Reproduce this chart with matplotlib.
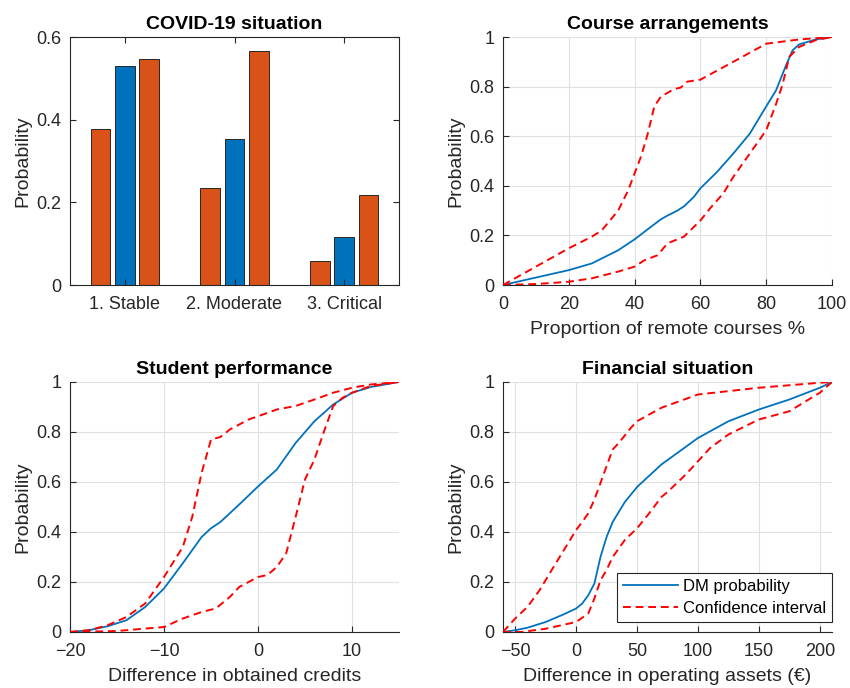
import numpy as np
import matplotlib.pyplot as plt
from matplotlib.ticker import FuncFormatter

plt.rcParams['font.family'] = ['Liberation Sans', 'DejaVu Sans']

BLUE = '#0072BD'
ORANGE = '#D95319'
RED = '#FF0000'
AXC = '#262626'

# COVID-19 situation (lower bound, DM probability, upper bound)
covid_cats = ['1. Stable', '2. Moderate', '3. Critical']
covid_low = [0.377, 0.234, 0.059]
covid_dm = [0.531, 0.353, 0.117]
covid_high = [0.546, 0.565, 0.218]

# Course arrangements
course_dm_x = [0, 10, 20, 27, 35, 40, 45, 48, 50, 53, 55, 58, 60, 65, 70, 75, 80, 83, 86, 88, 90, 95, 100]
course_dm_y = [0, 0.03, 0.06, 0.087, 0.14, 0.184, 0.235, 0.265, 0.28, 0.3, 0.317, 0.355, 0.39, 0.455, 0.53, 0.61, 0.72, 0.785, 0.885, 0.946, 0.97, 0.99, 1.0]
course_hi_x = [0, 10, 20, 27, 30, 35, 38, 40, 42, 44, 46, 48, 52, 54, 56, 60, 70, 80, 90, 100]
course_hi_y = [0, 0.074, 0.148, 0.195, 0.22, 0.30, 0.38, 0.45, 0.52, 0.61, 0.72, 0.76, 0.79, 0.796, 0.82, 0.828, 0.90, 0.973, 0.99, 1.0]
course_lo_x = [0, 10, 20, 27, 35, 40, 43, 47, 50, 55, 60, 63, 67, 70, 75, 80, 83, 85, 87, 90, 95, 100]
course_lo_y = [0, 0.004, 0.013, 0.027, 0.054, 0.074, 0.10, 0.12, 0.168, 0.195, 0.26, 0.31, 0.37, 0.436, 0.53, 0.624, 0.73, 0.81, 0.92, 0.96, 0.987, 1.0]

# Student performance
perf_dm_x = [-20, -18, -16, -14, -12, -10, -8, -6, -5, -4, -2, 0, 2, 4, 6, 8, 10, 12, 15]
perf_dm_y = [0, 0.007, 0.023, 0.047, 0.10, 0.174, 0.275, 0.38, 0.415, 0.44, 0.51, 0.582, 0.65, 0.756, 0.843, 0.91, 0.957, 0.98, 1.0]
perf_hi_x = [-20, -18, -16, -14, -12, -10, -8, -7, -6, -5, -4, -3, -1, 0, 2, 4, 6, 8, 10, 12, 15]
perf_hi_y = [0, 0.007, 0.027, 0.06, 0.114, 0.22, 0.34, 0.46, 0.636, 0.77, 0.78, 0.81, 0.85, 0.863, 0.89, 0.904, 0.93, 0.957, 0.977, 0.99, 1.0]
perf_lo_x = [-20, -15, -10, -8, -6, -4.5, -3, -2, 0, 1, 2, 3, 4, 5, 6, 7, 8, 9, 10, 12, 15]
perf_lo_y = [0, 0.004, 0.02, 0.054, 0.08, 0.094, 0.14, 0.18, 0.22, 0.228, 0.26, 0.315, 0.46, 0.61, 0.69, 0.80, 0.904, 0.937, 0.957, 0.984, 1.0]

# Financial situation
fin_dm_x = [-60, -50, -40, -25, -10, 0, 5, 10, 15, 20, 25, 30, 40, 50, 70, 100, 125, 150, 175, 200, 210]
fin_dm_y = [0, 0.007, 0.017, 0.04, 0.071, 0.094, 0.114, 0.147, 0.194, 0.30, 0.38, 0.44, 0.52, 0.58, 0.67, 0.776, 0.843, 0.89, 0.93, 0.977, 1.0]
fin_hi_x = [-60, -50, -40, -30, -20, -10, 0, 5, 10, 15, 20, 25, 30, 35, 45, 50, 70, 100, 150, 200, 210]
fin_hi_y = [0, 0.054, 0.10, 0.167, 0.248, 0.328, 0.408, 0.44, 0.475, 0.53, 0.596, 0.663, 0.73, 0.756, 0.817, 0.843, 0.897, 0.95, 0.977, 0.997, 1.0]
fin_lo_x = [-60, -45, -25, 0, 10, 15, 20, 25, 30, 40, 50, 60, 70, 75, 90, 100, 110, 125, 150, 175, 200, 210]
fin_lo_y = [0, 0, 0.013, 0.04, 0.074, 0.134, 0.207, 0.248, 0.30, 0.368, 0.415, 0.475, 0.54, 0.56, 0.63, 0.683, 0.736, 0.79, 0.85, 0.883, 0.957, 1.0]


def mfmt(v, pos):
    return '%g' % round(v, 6)


def style(ax, box=False):
    for s in ['top', 'right']:
        ax.spines[s].set_visible(box)
    for s in ax.spines.values():
        s.set_color(AXC)
        s.set_linewidth(0.8)
    ax.tick_params(direction='in', length=4, width=0.8, colors=AXC, labelsize=13,
                   top=box, right=box)
    ax.tick_params(axis='x', pad=8)
    ax.tick_params(axis='y', pad=6)
    ax.yaxis.set_major_formatter(FuncFormatter(mfmt))
    ax.set_ylabel('Probability', fontsize=14, color=AXC, labelpad=4)


fig = plt.figure(figsize=(8.5, 6.88), dpi=100)
W, H = 850, 688


def place(l, t, r, b):
    return fig.add_axes([l / W, 1 - b / H, (r - l) / W, (b - t) / H])


# COVID bars
ax = place(70, 37, 399, 285)
x = np.arange(1, 4)
off, bw = 0.222, 0.18
ax.bar(x - off, covid_low, bw, color=ORANGE, edgecolor=AXC, linewidth=0.7)
ax.bar(x, covid_dm, bw, color=BLUE, edgecolor=AXC, linewidth=0.7)
ax.bar(x + off, covid_high, bw, color=ORANGE, edgecolor=AXC, linewidth=0.7)
ax.set_xlim(0.5, 3.5)
ax.set_ylim(0, 0.6)
ax.set_xticks(x)
ax.set_xticklabels(covid_cats)
ax.set_yticks([0, 0.2, 0.4, 0.6])
style(ax, box=True)
ax.set_title('COVID-19 situation', fontsize=14, fontweight='bold', pad=6)

dash = (4, 2.5)


def cdf_panel(ax, dmx, dmy, hix, hiy, lox, loy, xlim, xticks, xlabel, title):
    ax.plot(dmx, dmy, color=BLUE, lw=1.3, label='DM probability', zorder=3)
    ax.plot(hix, hiy, color=RED, lw=1.4, dashes=dash, label='Confidence interval', zorder=3)
    ax.plot(lox, loy, color=RED, lw=1.4, dashes=dash, zorder=3)
    ax.set_xlim(*xlim)
    ax.set_ylim(0, 1)
    ax.set_xticks(xticks)
    ax.set_yticks(np.linspace(0, 1, 6))
    ax.grid(True, color='#e0e0e0', lw=0.8)
    ax.set_axisbelow(True)
    style(ax)
    ax.set_xlabel(xlabel, fontsize=14, color=AXC, labelpad=6)
    ax.set_title(title, fontsize=14, fontweight='bold', pad=6)


ax2 = place(503, 37, 832, 285)
cdf_panel(ax2, course_dm_x, course_dm_y, course_hi_x, course_hi_y, course_lo_x, course_lo_y,
          (0, 100), range(0, 101, 20), 'Proportion of remote courses %', 'Course arrangements')

ax3 = place(70, 382, 399, 632)
cdf_panel(ax3, perf_dm_x, perf_dm_y, perf_hi_x, perf_hi_y, perf_lo_x, perf_lo_y,
          (-20, 15), [-20, -10, 0, 10], 'Difference in obtained credits', 'Student performance')

ax4 = place(503, 382, 832, 632)
cdf_panel(ax4, fin_dm_x, fin_dm_y, fin_hi_x, fin_hi_y, fin_lo_x, fin_lo_y,
          (-60, 210), range(-50, 201, 50), 'Difference in operating assets (€)', 'Financial situation')
leg = ax4.legend(loc='lower right', bbox_to_anchor=(1.0, 0.04), fontsize=12,
                 handlelength=3.3, fancybox=False, edgecolor=AXC, framealpha=1,
                 borderaxespad=0, borderpad=0.35, labelspacing=0.45, handletextpad=0.3)
leg.get_frame().set_linewidth(0.8)

fig.savefig('out.png', dpi=100)
